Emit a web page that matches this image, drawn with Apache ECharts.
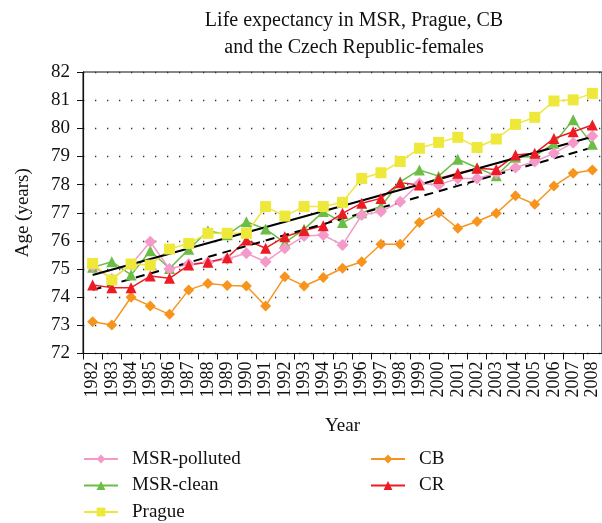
<!DOCTYPE html>
<html>
<head>
<meta charset="utf-8">
<script src="https://cdn.jsdelivr.net/npm/echarts@6/dist/echarts.min.js"></script>
<style>
  html, body { margin: 0; padding: 0; background: #fff; }
  #main { width: 602px; height: 523px; }
</style>
</head>
<body>
<div id="main"></div>
<script>
// years on the x axis
var years = ['1982','1983','1984','1985','1986','1987','1988','1989','1990','1991','1992','1993','1994',
    '1995','1996','1997','1998','1999','2000','2001','2002','2003','2004','2005','2006','2007','2008'];

// life expectancy, females
var msrPolluted = [75.1, 74.65, 75.15, 75.97, 75.0, 75.18, 75.23, 75.36, 75.56, 75.26, 75.74, 76.17, 76.21,
    75.85, 76.92, 77.04, 77.39, 78.05, 77.99, 78.22, 78.22, 78.4, 78.61, 78.82, 79.11, 79.49, 79.73];
var msrClean = [75.06, 75.26, 74.79, 75.65, 75.02, 75.7, 76.36, 76.22, 76.68, 76.42, 75.94, 76.41, 77.04,
    76.65, 77.0, 77.22, 78.1, 78.52, 78.3, 78.9, 78.6, 78.31, 78.97, 79.0, 79.47, 80.3, 79.43];
var prague = [75.2, 74.61, 75.18, 75.14, 75.71, 75.91, 76.27, 76.27, 76.27, 77.22, 76.88, 77.22, 77.22,
    77.37, 78.22, 78.42, 78.82, 79.29, 79.5, 79.68, 79.32, 79.62, 80.14, 80.39, 80.97, 81.01, 81.24];
var cb = [73.13, 73.01, 74.0, 73.69, 73.39, 74.26, 74.49, 74.42, 74.4, 73.69, 74.73, 74.4, 74.7,
    75.03, 75.26, 75.88, 75.88, 76.65, 77.0, 76.45, 76.69, 76.98, 77.6, 77.3, 77.95, 78.4, 78.52];
var cr = [74.43, 74.34, 74.34, 74.75, 74.67, 75.14, 75.24, 75.4, 76.03, 75.74, 76.15, 76.37, 76.54,
    76.98, 77.34, 77.51, 78.07, 77.99, 78.22, 78.4, 78.58, 78.54, 79.05, 79.11, 79.64, 79.88, 80.12];

// linear trends (end points only)
var trendYears = ['1982', '2008'];
var trendSolid = [74.79, 79.7];
var trendDashed = [74.26, 79.32];

var font = 'Liberation Serif';

function pairs(xs, ys) {
    return xs.map(function (x, i) { return [x, ys[i]]; });
}

function dataSeries(name, values, color, symbol, size) {
    return {
        name: name,
        type: 'line',
        data: values,
        symbol: symbol,
        symbolSize: size,
        showSymbol: true,
        lineStyle: { color: color, width: 1.5 },
        itemStyle: { color: color },
        emphasis: { disabled: true }
    };
}

function legendAt(names, left) {
    return {
        data: names,
        orient: 'vertical',
        left: left,
        top: 449,
        height: 74,
        padding: 0,
        itemWidth: 34,
        itemHeight: 11,
        itemGap: 6.5,
        textStyle: { fontFamily: font, fontSize: 19, lineHeight: 20, color: '#111', padding: [0, 0, 0, 9] }
    };
}

var chart = echarts.init(document.getElementById('main'));

var option = {
    animation: false,
    backgroundColor: '#fff',
    title: {
        text: 'Life expectancy in MSR, Prague, CB\nand the Czech Republic-females',
        left: 349,
        top: 2,
        textAlign: 'center',
        textStyle: { fontFamily: font, fontSize: 20, fontWeight: 'normal', color: '#111', lineHeight: 27 }
    },
    legend: [
        legendAt(['MSR-polluted', 'MSR-clean', 'Prague'], 83),
        legendAt(['CB', 'CR'], 370)
    ],
    grid: {
        left: 83,
        top: 72,
        width: 520,
        bottom: 169.5,
        show: true,
        borderColor: '#111',
        borderWidth: 1
    },
    xAxis: {
        type: 'category',
        data: years,
        boundaryGap: true,
        name: 'Year',
        nameLocation: 'middle',
        nameGap: 63,
        nameTextStyle: { fontFamily: font, fontSize: 19, color: '#111' },
        axisLine: { lineStyle: { color: '#111', width: 1.2 } },
        axisTick: { show: true, inside: false, length: 6, alignWithLabel: false, lineStyle: { color: '#111' } },
        axisLabel: { rotate: 90, interval: 0, fontFamily: font, fontSize: 18, color: '#111', margin: 8 },
        splitLine: { show: false }
    },
    yAxis: {
        type: 'value',
        min: 72,
        max: 82,
        interval: 1,
        name: 'Age (years)',
        nameLocation: 'middle',
        nameRotate: 90,
        nameGap: 50,
        nameTextStyle: { fontFamily: font, fontSize: 19, color: '#111' },
        axisLine: { show: true, lineStyle: { color: '#111', width: 1.2 } },
        axisTick: { show: true, inside: false, length: 6, lineStyle: { color: '#111' } },
        axisLabel: { fontFamily: font, fontSize: 19, color: '#111', margin: 13 },
        splitLine: { show: true, lineStyle: { color: '#333', width: 1.3, type: [1.3, 10.7] } }
    },
    series: [
        dataSeries('CB', cb, '#F7941D', 'diamond', 11),
        dataSeries('MSR-clean', msrClean, '#6CBD45', 'triangle', 11),
        dataSeries('MSR-polluted', msrPolluted, '#F49AC9', 'diamond', 12),
        dataSeries('CR', cr, '#ED1C24', 'triangle', 11),
        dataSeries('Prague', prague, '#EEE83A', 'rect', 11),
        {
            name: 'trend-solid',
            type: 'line',
            data: pairs(trendYears, trendSolid),
            symbol: 'none',
            lineStyle: { color: '#000', width: 2 },
            z: 3
        },
        {
            name: 'trend-dashed',
            type: 'line',
            data: pairs(trendYears, trendDashed),
            symbol: 'none',
            lineStyle: { color: '#000', width: 2, type: [9, 6] },
            z: 3
        }
    ]
};

chart.setOption(option);
</script>
</body>
</html>
